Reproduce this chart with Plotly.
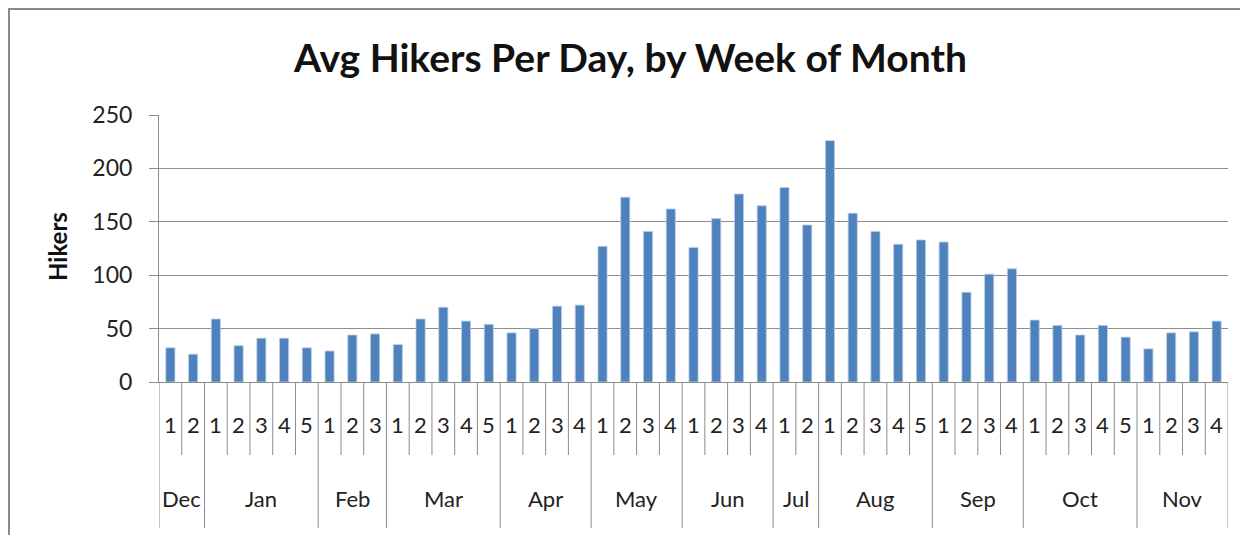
import plotly.graph_objects as go

months = ["Dec", "Jan", "Feb", "Mar", "Apr", "May", "Jun", "Jul", "Aug", "Sep", "Oct", "Nov"]
weeks_per_month = [2, 5, 3, 5, 4, 4, 4, 2, 5, 4, 5, 4]
hikers = [32, 26,
          59, 34, 41, 41, 32,
          29, 44, 45,
          35, 59, 70, 57, 54,
          46, 50, 71, 72,
          127, 173, 141, 162,
          126, 153, 176, 165,
          182, 147,
          226, 158, 141, 129, 133,
          131, 84, 101, 106,
          58, 53, 44, 53, 42,
          31, 46, 47, 57]
y_ticks = [0, 50, 100, 150, 200, 250]

FONT = "Lato, 'Open Sans', sans-serif"
GRID = "#8c8c8c"
BAR = "#4F81BD"

W, H = 1240, 527
L, R, T, B = 151, 20, 107, 153
plot_w = W - L - R
plot_h = H - T - B

week_labels = []
for m, n in zip(months, weeks_per_month):
    for w in range(1, n + 1):
        week_labels.append(str(w))
xs = list(range(len(hikers)))

fig = go.Figure(go.Bar(
    x=xs, y=hikers,
    marker=dict(color=BAR, line=dict(color="#B9CDE5", width=0.8)),
    width=0.4,
))

def py(px_below):
    return -px_below / plot_h

annotations = []
shapes = []
for i, w in enumerate(week_labels):
    annotations.append(dict(x=i, y=py(42), xref="x", yref="paper", text=w,
                            showarrow=False, font=dict(family=FONT, size=22, color="#222"),
                            xanchor="center", yanchor="middle"))
start = 0
month_bounds = [-0.5]
for m, n in zip(months, weeks_per_month):
    end = start + n
    annotations.append(dict(x=(start + end - 1) / 2.0, y=py(116), xref="x", yref="paper",
                            text=m, showarrow=False,
                            font=dict(family=FONT, size=22, color="#222"),
                            xanchor="center", yanchor="middle"))
    for k in range(start + 1, end):
        shapes.append(dict(type="line", xref="x", yref="paper", x0=k - 0.5, x1=k - 0.5,
                           y0=0, y1=py(73), line=dict(color=GRID, width=1)))
    month_bounds.append(end - 0.5)
    start = end
for b in month_bounds:
    shapes.append(dict(type="line", xref="x", yref="paper", x0=b, x1=b,
                       y0=0, y1=py(146), line=dict(color=GRID, width=1)))

# outer chart frame
shapes.append(dict(type="rect", xref="paper", yref="paper",
                   x0=(1 - L) / plot_w, x1=1.3, y0=-1.0, y1=1 + (T - 1) / plot_h,
                   line=dict(color="#8a8a8a", width=2), layer="below"))

annotations.append(dict(x=(49 - L) / plot_w, y=0.5056, xref="paper", yref="paper",
                        text="<b>Hikers</b>", textangle=-90, showarrow=False,
                        font=dict(family=FONT, size=24, color="#111"),
                        xanchor="center", yanchor="middle"))

fig.update_layout(
    width=W, height=H,
    margin=dict(l=L, r=R, t=T, b=B),
    paper_bgcolor="white", plot_bgcolor="white",
    showlegend=False,
    title=dict(text="<b>Avg Hikers Per Day, by Week of Month</b>",
               x=622.5 / W, xref="container", xanchor="center",
               y=1 - 50 / H, yref="container", yanchor="middle",
               font=dict(family=FONT, size=39, color="#111")),
    xaxis=dict(range=[-0.5, len(hikers) - 0.5], showticklabels=False, ticks="",
               showgrid=False, zeroline=False, showline=True, linecolor=GRID,
               linewidth=1, fixedrange=True),
    yaxis=dict(range=[0, 250], tickvals=y_ticks, ticks="outside", ticklen=9,
               tickcolor=GRID, showline=True, linecolor=GRID, linewidth=1,
               showgrid=True, gridcolor=GRID, gridwidth=1, zeroline=False,
               ticklabelstandoff=12,
               tickfont=dict(family=FONT, size=23, color="#222"), fixedrange=True),
    annotations=annotations, shapes=shapes,
)

fig.write_html("out.html")
